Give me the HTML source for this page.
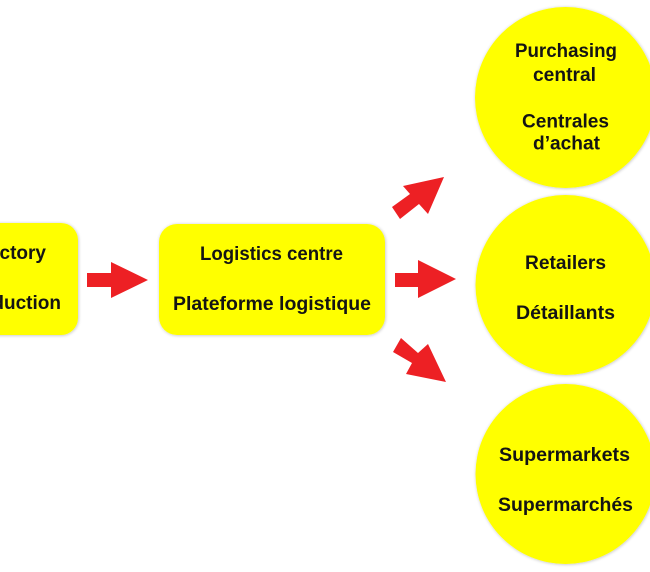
<!DOCTYPE html>
<html>
<head>
<meta charset="utf-8">
<style>
  html, body { margin: 0; padding: 0; background: #ffffff; }
  body { width: 650px; height: 572px; overflow: hidden; }
  svg { display: block; }
  text { font-family: "Liberation Sans", "DejaVu Sans", sans-serif; font-weight: bold; font-size: 19px; fill: #141414; }
</style>
</head>
<body>
<svg width="650" height="572" viewBox="0 0 650 572" xmlns="http://www.w3.org/2000/svg">
  <defs>
    <filter id="sh" x="-10%" y="-10%" width="120%" height="120%">
      <feGaussianBlur in="SourceAlpha" stdDeviation="1.5"/>
      <feOffset dx="0.5" dy="0.5" result="b"/>
      <feComponentTransfer><feFuncA type="linear" slope="0.25"/></feComponentTransfer>
      <feMerge><feMergeNode/><feMergeNode in="SourceGraphic"/></feMerge>
    </filter>
  </defs>

  <!-- Left box (Factory / Production) -->
  <rect x="-60" y="223" width="138" height="112" rx="17" ry="17" fill="#ffff00" filter="url(#sh)"/>
  <text x="46" y="259" text-anchor="end">Factory</text>
  <text x="61" y="309" text-anchor="end">Production</text>

  <!-- Arrow 1 -->
  <polygon points="87,273 111,273 111,262 148,280 111,298 111,287 87,287" fill="#ed2024"/>

  <!-- Middle box -->
  <rect x="159" y="224" width="226" height="111" rx="18" ry="18" fill="#ffff00" filter="url(#sh)"/>
  <text x="200" y="260" textLength="143" lengthAdjust="spacingAndGlyphs">Logistics centre</text>
  <text x="173" y="310" textLength="198" lengthAdjust="spacingAndGlyphs">Plateforme logistique</text>

  <!-- Arrow middle -->
  <polygon points="395,273 418,273 418,260 456,279 418,298 418,287 395,287" fill="#ed2024"/>

  <!-- Arrow up -->
  <polygon points="444,177 403,186 410,194 392,207 400,219 419,204 428,214" fill="#ed2024"/>

  <!-- Arrow down -->
  <polygon points="446,382 428,344 418,353 401,338 393,352 412,363 406,374" fill="#ed2024"/>

  <!-- Circles -->
  <circle cx="565.5" cy="97.5" r="90.5" fill="#ffff00" filter="url(#sh)"/>
  <circle cx="565.5" cy="285" r="90" fill="#ffff00" filter="url(#sh)"/>
  <circle cx="565.5" cy="474" r="90" fill="#ffff00" filter="url(#sh)"/>

  <!-- Circle 1 text -->
  <text x="515" y="57" textLength="102" lengthAdjust="spacingAndGlyphs">Purchasing</text>
  <text x="533" y="81" textLength="63" lengthAdjust="spacingAndGlyphs">central</text>
  <text x="522" y="127.5" textLength="87" lengthAdjust="spacingAndGlyphs">Centrales</text>
  <text x="533" y="149.5" textLength="67" lengthAdjust="spacingAndGlyphs">d’achat</text>

  <!-- Circle 2 text -->
  <text x="525" y="269" textLength="81" lengthAdjust="spacingAndGlyphs">Retailers</text>
  <text x="516" y="319" textLength="99" lengthAdjust="spacingAndGlyphs">Détaillants</text>

  <!-- Circle 3 text -->
  <text x="499" y="461" textLength="131" lengthAdjust="spacingAndGlyphs">Supermarkets</text>
  <text x="498" y="511" textLength="135" lengthAdjust="spacingAndGlyphs">Supermarchés</text>
</svg>
</body>
</html>
